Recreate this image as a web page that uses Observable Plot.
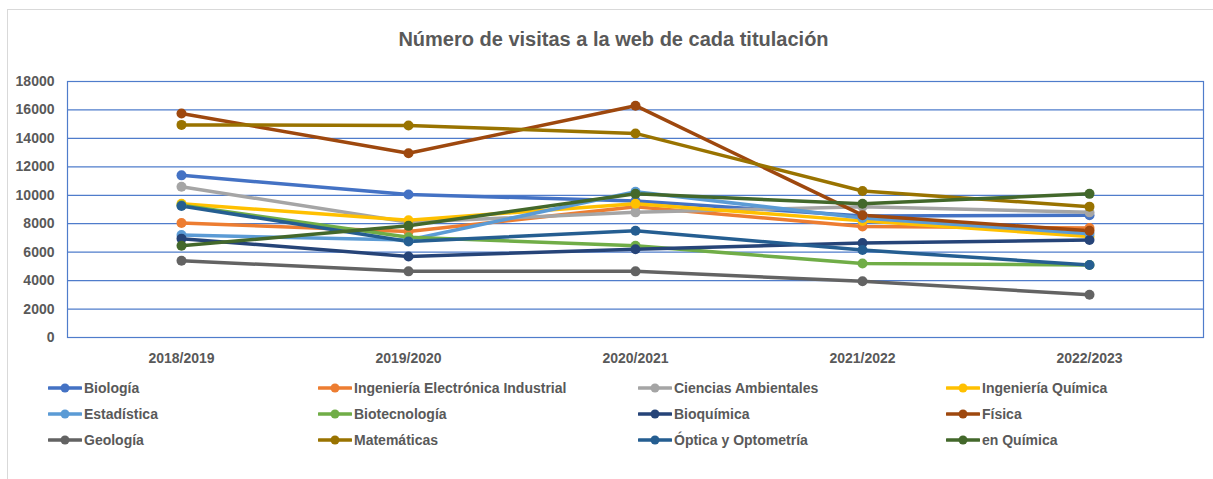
<!DOCTYPE html>
<html>
<head>
<meta charset="utf-8">
<script src="https://cdn.jsdelivr.net/npm/d3@7"></script>
<script src="https://cdn.jsdelivr.net/npm/@observablehq/plot@0.6"></script>
<style>
  html, body { margin: 0; padding: 0; background: #fff; }
  #wrap { position: relative; width: 1213px; height: 479px; overflow: hidden;
          font-family: "Liberation Sans Narrow", "Arial Narrow", "Liberation Sans", sans-serif; }
  #border { position: absolute; left: 7px; top: 9px; width: 1220px; height: 490px; border: 1px solid #d9d9d9; box-sizing: border-box; }
  #title { position: absolute; left: 0; top: 28px; width: 1227px; text-align: center;
           font-size: 20px; font-weight: bold; color: #595959; }
  #chart { position: absolute; left: 0; top: 0; }
  #legend { position: absolute; left: 48px; top: 378px; display: grid;
            grid-template-columns: 270px 320px 308px 240px; row-gap: 7px;
            font-size: 14px; font-weight: bold; color: #595959; }
  .item { display: flex; align-items: center; height: 19px; white-space: nowrap; }
  .item svg { margin-right: 2px; }
</style>
</head>
<body>
<div id="wrap">
  <div id="border"></div>
  <div id="title">Número de visitas a la web de cada titulación</div>
  <div id="chart"></div>
  <div id="legend"></div>
</div>
<script>
const years = ["2018/2019", "2019/2020", "2020/2021", "2021/2022", "2022/2023"];
const seriesNames = ["Biología", "Ingeniería Electrónica Industrial", "Ciencias Ambientales", "Ingeniería Química",
  "Estadística", "Biotecnología", "Bioquímica", "Física", "Geología", "Matemáticas", "Óptica y Optometría", "en Química"];
const seriesColors = ["#4472C4", "#ED7D31", "#A5A5A5", "#FFC000", "#5B9BD5", "#70AD47",
  "#264478", "#9E480E", "#636363", "#997300", "#255E91", "#43682B"];
const biologia      = [11400, 10050, 9600, 8550, 8600];
const ingElectronica= [8050, 7450, 9200, 7800, 7700];
const ciencias      = [10600, 8100, 8800, 9200, 8800];
const ingQuimica    = [9400, 8250, 9400, 8200, 7100];
const estadistica   = [7200, 6850, 10250, 8400, 7300];
const biotecnologia = [9300, 7050, 6450, 5200, 5100];
const bioquimica    = [6950, 5700, 6200, 6650, 6850];
const fisica        = [15750, 12950, 16300, 8600, 7500];
const geologia      = [5400, 4650, 4650, 3950, 3000];
const matematicas   = [14950, 14900, 14350, 10300, 9200];
const optica        = [9250, 6750, 7500, 6150, 5100];
const enQuimica     = [6450, 7850, 10100, 9400, 10100];
const yTicks = [0, 2000, 4000, 6000, 8000, 10000, 12000, 14000, 16000, 18000];

const allValues = [biologia, ingElectronica, ciencias, ingQuimica, estadistica, biotecnologia,
  bioquimica, fisica, geologia, matematicas, optica, enQuimica];

const rows = [];
seriesNames.forEach((name, i) => {
  years.forEach((y, j) => rows.push({serie: name, year: y, value: allValues[i][j]}));
});

const grid = "#4f7ccb";
const chart = Plot.plot({
  width: 1213,
  height: 372,
  marginLeft: 67,
  marginRight: 10,
  marginTop: 81,
  marginBottom: 35,
  style: {fontFamily: '"Liberation Sans Narrow", "Arial Narrow", "Liberation Sans", sans-serif', fontSize: "14px", fontWeight: "bold", color: "#595959", background: "transparent"},
  x: {type: "point", domain: years, padding: 0.5, label: null, tickSize: 0, tickPadding: 16},
  y: {domain: [0, 18000], ticks: yTicks, tickFormat: d3.format("d"), label: null, tickSize: 0, tickPadding: 13},
  color: {domain: seriesNames, range: seriesColors},
  marks: [
    Plot.ruleY(yTicks, {stroke: grid, strokeWidth: 1.2}),
    Plot.frame({stroke: grid, strokeWidth: 1.2}),
    Plot.line(rows, {x: "year", y: "value", z: "serie", stroke: "serie", strokeWidth: 3.5, strokeLinejoin: "round"}),
    Plot.dot(rows, {x: "year", y: "value", fill: "serie", r: 5})
  ]
});
document.getElementById("chart").appendChild(chart);

const legend = document.getElementById("legend");
seriesNames.forEach((name, i) => {
  const item = document.createElement("div");
  item.className = "item";
  item.innerHTML = `<svg width="34" height="12"><line x1="1" x2="33" y1="6" y2="6" stroke="${seriesColors[i]}" stroke-width="3.5" stroke-linecap="round"/><circle cx="17" cy="6" r="4.5" fill="${seriesColors[i]}"/></svg><span>${name}</span>`;
  legend.appendChild(item);
});
</script>
</body>
</html>
